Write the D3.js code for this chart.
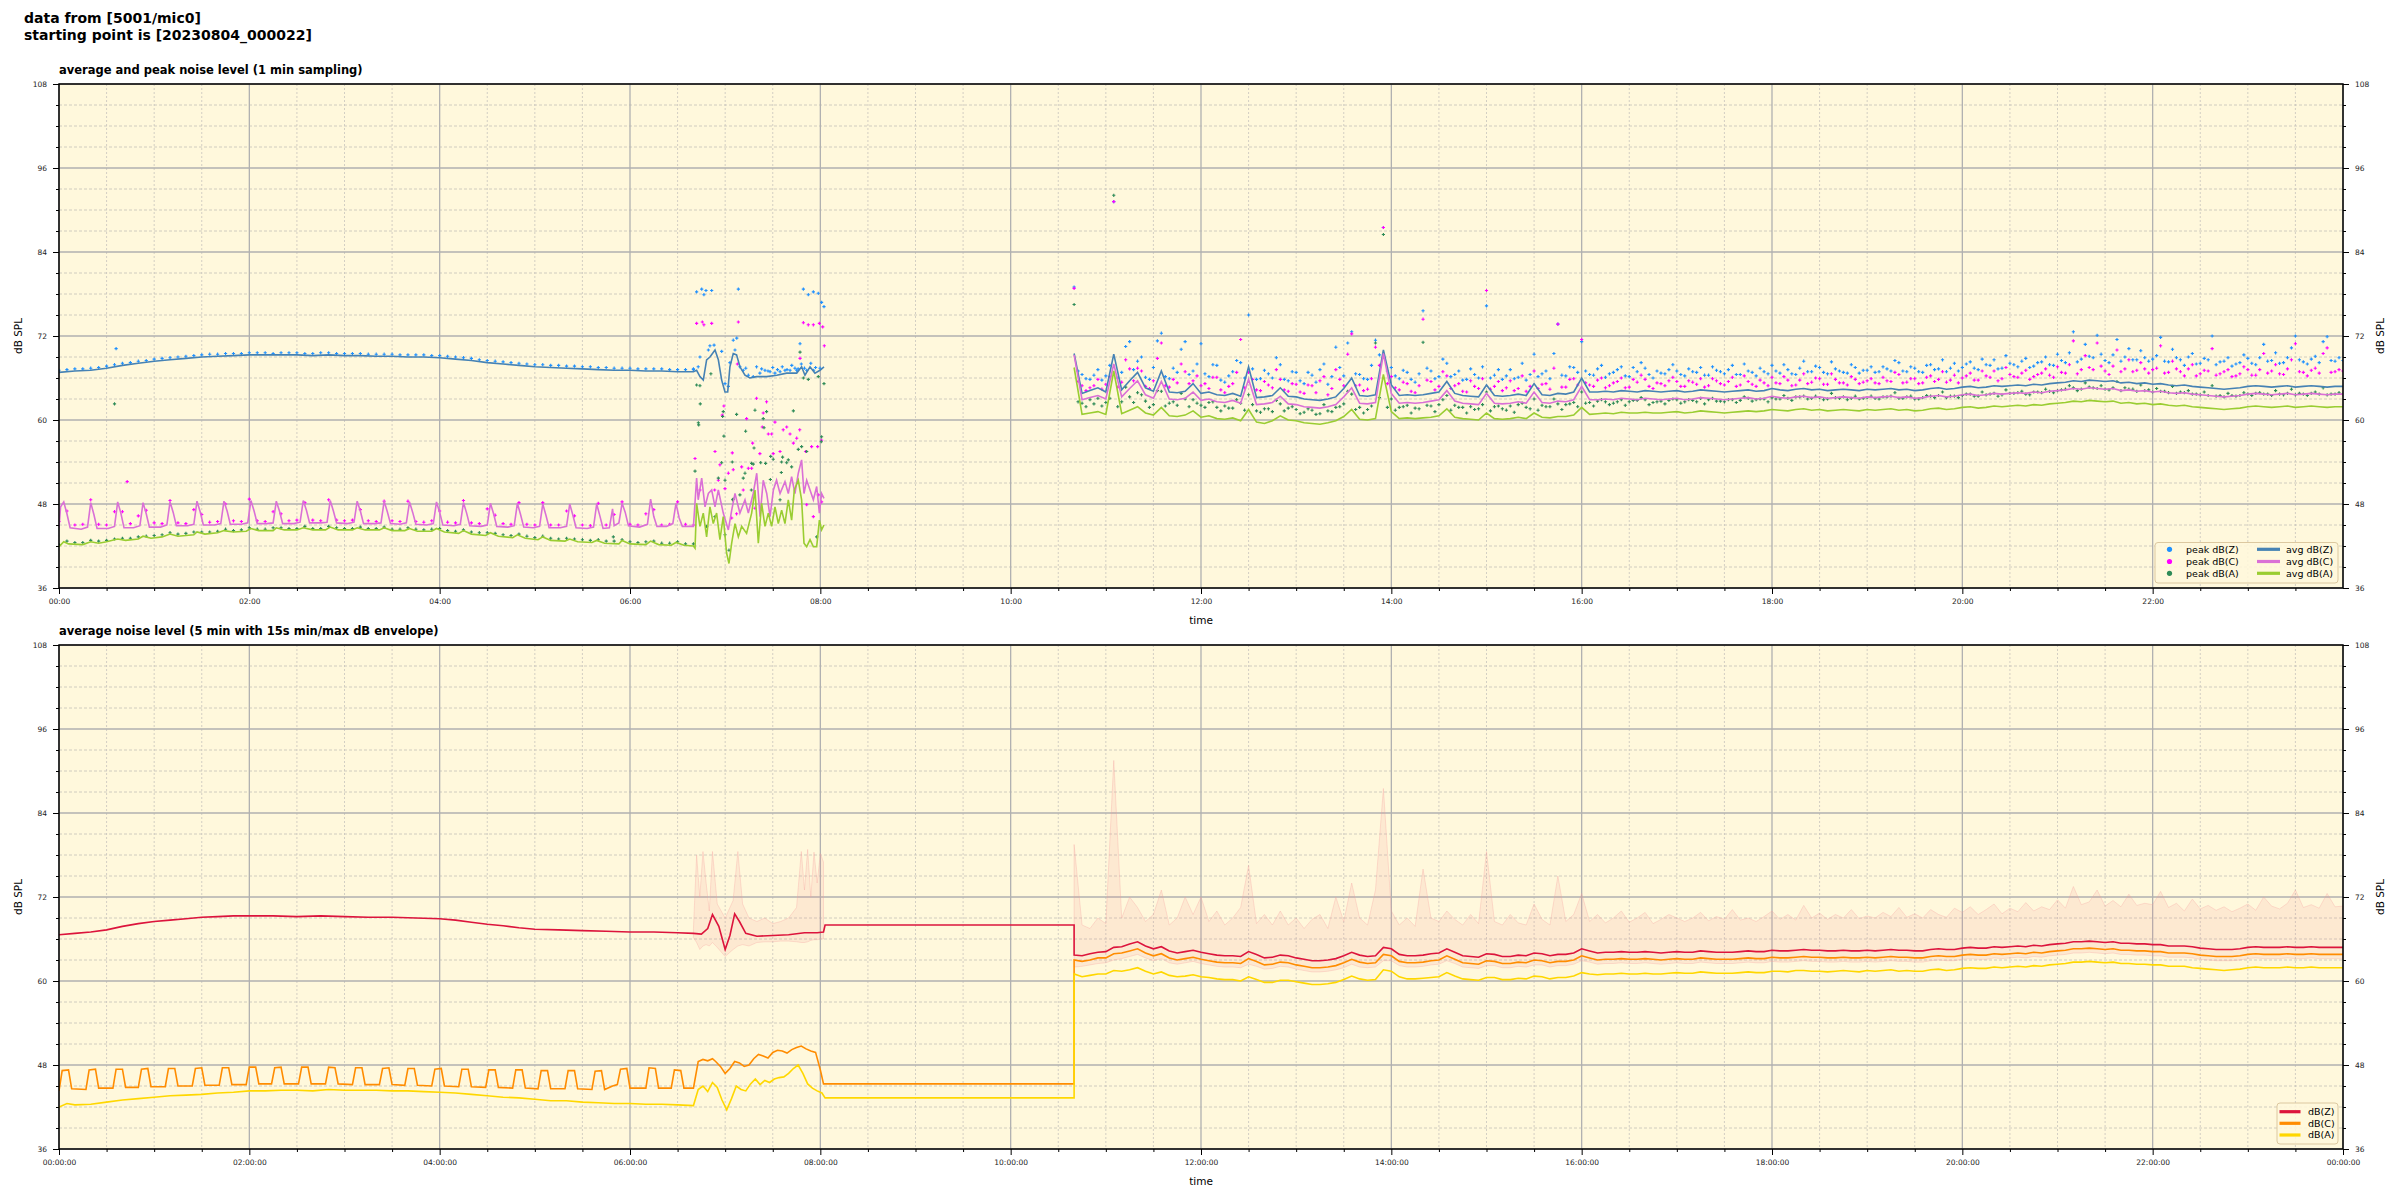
<!DOCTYPE html>
<html><head><meta charset="utf-8">
<script src="https://cdn.jsdelivr.net/npm/d3@7"></script>
<style>
body{margin:0;background:#fff;}
text{font-family:"DejaVu Sans",sans-serif;}
</style></head><body>
<svg id="c" width="2400" height="1200"></svg>
<script>
// ---------- DATA (times in minutes since 00:00, values in dB SPL) ----------
const yMajorTicks = [36,48,60,72,84,96,108];
const xMajorTicks = [0,120,240,360,480,600,720,840,960,1080,1200,1320,1440];
const topLegend = ["peak dB(Z)","peak dB(C)","peak dB(A)","avg dB(Z)","avg dB(C)","avg dB(A)"];
const botLegend = ["dB(Z)","dB(C)","dB(A)"];

// top panel, morning segment: averages as [minute, dB]
const avgZ1 = [[0,66.8],[10,67.0],[20,67.1],[30,67.4],[40,67.8],[50,68.1],[60,68.4],[70,68.6],[80,68.8],[90,69.0],[100,69.1],[110,69.2],[120,69.3],[130,69.3],[140,69.3],[150,69.3],[160,69.2],[170,69.3],[180,69.2],[190,69.2],[200,69.1],[210,69.1],[220,69.0],[230,69.0],[240,68.9],[250,68.7],[260,68.5],[270,68.2],[280,68.0],[290,67.8],[300,67.6],[310,67.5],[320,67.4],[330,67.3],[340,67.2],[350,67.1],[360,67.1],[370,67.0],[380,67.0],[390,66.9],[400,66.9],
[402,67.1],[404.1,66.2],[406.2,65.7],[408.3,68.6],[410.4,69.0],[413.6,70.0],[415.7,68.6],[417.8,65.7],[419.9,64.0],[421.6,64.0],[423,67.6],[425.1,69.5],[427.2,69.3],[429.3,67.6],[432.5,66.4],[435.6,66.0],[439.8,66.2],[446.1,66.2],[452.5,66.4],[458.8,66.7],[465.1,66.7],[468.2,67.6],[470.3,66.4],[473.5,67.6],[476.6,66.7],[479.8,67.1],[482.3,67.6]];
const avgC1 = [[0,44.6],[1,47.6],[3,48.3],[5,46.6],[7,44.6],[14,44.4],[18,44.7],[20,48.2],[22,46.5],[24,44.5],[31,44.5],[35,44.8],[37,48.3],[39,46.7],[41,44.6],[47,44.6],[51,44.9],[53,48.2],[55,46.6],[57,44.7],[64,44.7],[68,45.0],[70,48.3],[72,46.8],[74,44.9],[81,44.9],[85,45.1],[87,48.4],[89,46.9],[91,45.0],[98,45.0],[102,45.2],[104,48.4],[106,47.0],[108,45.1],[115,45.1],[119,45.3],[121,48.5],[123,47.0],[125,45.2],[131,45.2],[135,45.3],[137,48.4],[139,47.0],[141,45.2],[148,45.2],[152,45.4],[154,48.5],[156,47.1],[158,45.3],[165,45.3],[169,45.4],[171,48.5],[173,47.0],[175,45.3],[182,45.2],[186,45.4],[188,48.4],[190,47.0],[192,45.2],[199,45.2],[203,45.3],[205,48.4],[207,46.9],[209,45.2],[215,45.1],[219,45.3],[221,48.3],[223,46.8],[225,45.1],[232,45.0],[236,45.2],[238,48.3],[240,46.8],[242,45.0],[249,44.9],[253,45.1],[255,48.2],[257,46.7],[259,44.9],[266,44.8],[270,45.0],[272,48.1],[274,46.6],[276,44.8],[283,44.7],[287,44.9],[289,48.1],[291,46.5],[293,44.7],[299,44.6],[303,44.8],[305,48.0],[307,46.4],[309,44.6],[316,44.6],[320,44.8],[322,48.0],[324,46.4],[326,44.6],[333,44.5],[337,44.7],[339,48.0],[341,46.3],[343,44.5],[347,44.6],[349,47.3],[350,44.9],[353,45.3],[355,48.1],[357,46.8],[359,44.9],[366,44.7],[371,45.1],[373,48.7],[375,46.2],[377,44.8],[383,44.8],[387,45.2],[389,48.1],[391,46.0],[393,44.8],[400,44.8],
[402,51.7],[403,48.6],[405.2,51.7],[407.3,47.6],[409.4,49.5],[411.5,50.0],[413.6,47.6],[415.7,50.0],[418.8,46.7],[422,44.3],[424.1,47.1],[426.2,49.5],[429.3,46.7],[432.5,48.6],[434.6,46.7],[437.7,49.5],[439.9,52.4],[442,46.2],[444,51.4],[446.2,49.5],[448.3,46.2],[450.4,50.0],[452.4,51.4],[454.6,49.5],[457.7,51.2],[459.8,49.5],[461.9,51.9],[464,49.5],[466.1,52.4],[468.2,54.3],[469.7,49.5],[471.4,51.4],[473.5,50.0],[475.6,48.6],[477.7,50.5],[479.4,46.7],[480.8,49.5],[482.3,48.8]];
const avgA1 = [[0,41.9],[3,42.6],[6,42.3],[15,42.2],[20,42.6],[25,42.4],[30,42.6],[37,43.0],[42,42.8],[50,43.0],[53,43.4],[58,43.1],[65,43.3],[70,43.7],[75,43.4],[85,43.6],[87,44.0],[92,43.7],[100,43.9],[104,44.2],[110,44.0],[118,44.1],[121,44.5],[126,44.2],[135,44.2],[137,44.6],[142,44.3],[150,44.3],[154,44.6],[160,44.3],[168,44.3],[171,44.7],[176,44.3],[185,44.3],[188,44.6],[193,44.3],[202,44.3],[205,44.6],[210,44.2],[218,44.2],[221,44.5],[226,44.1],[235,44.1],[238,44.5],[243,44.0],[252,43.8],[255,44.2],[260,43.7],[269,43.5],[272,43.9],[277,43.4],[286,43.2],[289,43.6],[294,43.1],[302,42.9],[305,43.3],[310,42.8],[319,42.7],[322,43.0],[327,42.6],[336,42.5],[339,42.8],[344,42.4],[353,42.3],[355,42.8],[360,42.3],[370,42.2],[373,42.7],[378,42.2],[386,42.1],[389,42.5],[394,42.1],[400,42.0],
[401,41.7],[402,48.1],[404.1,44.8],[406.2,46.7],[408.3,43.3],[410.4,47.6],[412.5,45.2],[414.6,46.7],[416.7,42.9],[418.8,46.2],[420.9,41.0],[422.4,39.5],[424.1,42.4],[426.2,45.2],[428.3,43.3],[430.4,44.8],[433.5,43.8],[436.7,46.7],[438.8,50.0],[440.9,42.4],[443,48.1],[445.1,44.8],[447.2,46.7],[449.3,44.8],[451.4,47.6],[453.5,45.2],[455.6,47.1],[457.7,45.2],[459.8,48.6],[461.9,45.7],[463.6,50.0],[466.1,51.4],[468.2,48.6],[469.7,42.4],[471.4,41.9],[473.5,42.9],[475.6,41.9],[477.7,41.9],[479.4,45.7],[480.8,44.3],[482.3,45.0]];

// top panel, morning peaks every 5 min from 00:00 to 06:40
const peakZ1 = [67.1,67.2,67.3,67.3,67.4,67.5,67.7,67.9,68.1,68.2,68.4,68.5,
68.7,68.8,68.9,69.0,69.1,69.2,69.3,69.4,69.4,69.5,69.5,69.5,
69.6,69.6,69.6,69.5,69.6,69.6,69.6,69.5,69.5,69.6,69.6,69.5,
69.5,69.5,69.5,69.4,69.4,69.4,69.4,69.3,69.3,69.3,69.3,69.2,
69.2,69.1,69.0,68.9,68.8,68.6,68.5,68.4,68.3,68.2,68.1,68.0,
67.9,67.9,67.8,67.8,67.7,67.7,67.6,67.6,67.5,67.5,67.4,67.4,
67.4,67.3,67.3,67.3,67.3,67.2,67.2,67.2,67.2];
const peakC1 = [45.5,47.0,45.0,45.1,48.6,45.1,45.0,46.9,46.9,45.2,46.3,47.1,
45.3,45.2,48.5,45.3,45.2,47.2,46.5,45.4,45.5,48.0,45.6,45.5,
48.7,45.6,45.5,46.9,46.6,45.6,45.7,48.2,45.7,45.6,48.6,45.7,
45.6,45.7,47.2,45.6,45.5,48.4,45.6,45.5,48.4,45.5,45.4,45.6,
47.0,45.4,45.3,48.5,45.3,45.2,47.3,46.4,45.2,45.1,48.2,45.1,
45.0,48.2,45.0,45.0,47.0,46.3,45.0,44.9,48.1,45.0,46.5,48.3,
45.1,45.0,46.6,47.2,45.0,45.1,48.3,45.1,45.0];
const peakA1 = [42.2,42.7,42.5,42.5,42.8,42.7,42.8,43.0,43.1,43.1,43.3,43.4,
43.5,43.6,43.9,43.7,43.8,44.0,44.0,44.0,44.1,44.4,44.2,44.3,
44.6,44.4,44.4,44.6,44.6,44.5,44.5,44.8,44.5,44.5,44.8,44.6,
44.5,44.5,44.7,44.5,44.5,44.7,44.4,44.4,44.6,44.4,44.3,44.4,
44.5,44.2,44.1,44.3,44.0,43.9,43.9,43.8,43.6,43.5,43.7,43.4,
43.2,43.4,43.1,43.0,43.1,43.0,42.9,42.8,42.9,42.7,42.7,42.9,
42.6,42.5,42.6,42.7,42.4,42.4,42.6,42.3,42.3];
// individual peak readings (scattered) as [minute, dB]
const peakZx = [[36,70.2],[402.0,78.3],[405.2,78.7],[406.6,77.9],[407.9,78.5],[411.5,78.5],[428.3,78.7],[404.1,69.0],[409.4,70.0],[410.4,70.6],[413.0,70.7],[417.8,69.8],[425.1,71.4],[426.2,70.0],[427.3,71.7],[429.3,67.6],[431.4,67.1],[434.6,66.4],[437.7,66.2],[439.8,67.6],[441.9,66.7],[445.1,67.1],[448.3,66.9],[451.4,66.7],[454.6,66.9],[457.7,67.1],[460.9,67.1],[464.0,67.4],[465.1,67.1],[467.2,70.9],[469.3,78.7],[471.4,67.1],[472.4,77.9],[475.6,78.3],[475.8,67.1],[478.7,78.1],[479.8,67.4],[480.8,76.8],[482.3,76.2],[400,67.3],[403,67.6],[419.9,65.2],[422,64.8],[423,68.2],[433,67.4],[443,67.3],[447,67.0],[450,67.5],[453,67.2],[456,67.6],[459,67.2],[462,67.8],[466,67.3],[468,68.0],[470,67.4],[474,68.1],[477,67.5]];
const peakCx = [[43,51.2],[402.0,73.8],[405.6,74.0],[406.6,73.6],[411.5,73.8],[428.3,74.0],[469.3,73.9],[472.4,73.6],[475.6,73.6],[479.4,73.8],[481.5,73.3],[482.5,70.6],[427.7,68.0],[467.2,68.8],[439.8,63.1],[446.1,62.6],[419.2,62.0],[418.2,60.7],[433.5,60.2],[444.0,61.0],[451.4,59.7],[401.0,54.5],[413.6,55.5],[424.5,55.3],[441.9,55.2],[437.3,56.7],[443.4,59.0],[447.2,58.0],[449.3,58.0],[456.6,58.6],[458.8,59.0],[460.9,58.0],[463.0,56.7],[465.1,57.4],[467.0,58.6],[470.7,55.5],[474.5,56.2],[478.3,56.2],[480.8,57.1],[416.7,53.6],[425.1,52.9],[430.4,53.3],[434.6,53.1],[436.7,53.1],[450.3,55.2],[454.6,55.5],[415.7,51.4],[422.0,52.4],[413.4,50.0],[419.9,50.2],[404.1,50.0],[431.4,50.0],[438.8,47.4],[424.1,46.0],[427.2,46.6],[471.4,47.9],[475.6,46.2],[478.7,49.3],[480.8,48.3]];
const peakAx = [[35,62.3],[402.0,65.0],[404.1,64.9],[404.3,62.3],[403.1,59.6],[403.3,59.3],[411.0,66.6],[418.8,61.2],[418.4,60.5],[419.2,57.7],[427.2,60.8],[438.8,61.4],[444.0,60.2],[446.1,61.2],[463.0,61.3],[467.2,69.7],[432.9,58.4],[444.5,58.9],[438.2,56.0],[442.4,53.9],[445.5,53.8],[448.7,54.8],[450.3,54.4],[455.6,54.0],[458.8,53.9],[461.9,53.3],[456.2,54.7],[459.8,54.3],[417.8,53.9],[424.5,54.0],[431.4,51.7],[432.5,52.4],[401.0,52.7],[415.7,51.7],[419.9,51.4],[436.7,53.8],[437.7,53.7],[429.3,49.3],[425.1,48.7],[436.5,50.0],[455.4,52.5],[454.6,48.6],[448.5,51.5],[466.1,55.8],[468.2,56.2],[471.4,55.5],[480.8,57.6],[480.6,56.9],[469.3,66.0],[472.4,65.8],[478.7,66.2],[482.3,65.2],[419.9,43.6],[422.4,41.4],[408.3,44.8],[477.7,43.3],[413.6,46.2],[424.7,48.6],[349.5,43.3]];

// top panel, afternoon segment: every 5 min from 10:40 to 24:00
const avgZ2 = [69.5,63.8,64.2,64.6,
64.0,69.4,64.3,65.6,66.8,64.6,64.1,67.0,64.0,63.9,64.1,65.2,
63.8,64.0,63.6,63.5,63.8,63.4,67.6,63.2,63.3,63.5,64.6,63.4,
63.3,63.0,62.9,62.8,63.0,63.3,64.5,66.0,63.5,63.4,63.6,70.0,
65.0,63.5,63.6,63.5,63.6,63.8,64.0,65.5,63.8,63.5,63.4,63.3,
65.0,63.5,63.4,63.5,63.7,63.5,65.2,63.6,63.5,63.8,63.7,64.0,
66.0,64.0,64.0,64.1,64.0,64.2,64.1,64.0,64.2,64.1,64.0,64.1,
64.2,64.0,64.1,64.3,64.2,64.1,64.0,64.1,64.2,64.3,64.1,64.2,
64.5,64.3,64.2,64.4,64.5,64.3,64.4,64.2,64.3,64.4,64.3,64.2,
64.4,64.3,64.4,64.5,64.3,64.4,64.2,64.3,64.5,64.6,64.4,64.5,
64.7,64.8,64.6,64.7,64.9,64.8,64.9,65.0,64.9,65.1,65.0,65.2,
65.3,65.4,65.6,65.5,65.7,65.6,65.5,65.6,65.3,65.4,65.2,65.3,
65.1,65.2,65.0,64.9,65.0,64.8,64.7,64.6,64.5,64.4,64.5,64.6,
64.8,64.9,64.8,64.7,64.8,64.9,64.7,64.8,64.9,64.8,64.7,64.8,
64.8];
const avgC2 = [69.3,62.9,63.2,63.5,
63.0,68.0,63.3,64.5,65.6,63.6,63.1,65.5,63.0,62.9,63.1,64.0,
62.8,63.0,62.6,62.5,62.8,62.4,65.8,62.2,62.3,62.5,63.4,62.3,
62.2,61.9,61.8,61.7,61.9,62.2,63.3,64.6,62.4,62.3,62.5,69.5,
63.8,62.4,62.5,62.4,62.5,62.7,62.9,64.2,62.7,62.4,62.3,62.2,
63.8,62.4,62.3,62.4,62.6,62.4,64.0,62.5,62.4,62.7,62.6,62.9,
64.8,62.9,62.9,63.0,62.9,63.1,63.0,62.9,63.1,63.0,62.9,63.0,
63.1,62.9,63.0,63.2,63.1,63.0,62.9,63.0,63.1,63.2,63.0,63.1,
63.4,63.2,63.1,63.3,63.4,63.2,63.3,63.1,63.2,63.3,63.2,63.1,
63.3,63.2,63.3,63.4,63.2,63.3,63.1,63.2,63.4,63.5,63.3,63.4,
63.6,63.7,63.5,63.6,63.8,63.7,63.8,63.9,63.8,64.0,63.9,64.1,
64.2,64.3,64.5,64.4,64.6,64.5,64.4,64.5,64.2,64.3,64.1,64.2,
64.0,64.1,63.9,63.8,63.9,63.7,63.6,63.5,63.4,63.3,63.4,63.5,
63.7,63.8,63.7,63.6,63.7,63.8,63.6,63.7,63.8,63.7,63.6,63.7,
63.7];
const avgA2 = [67.5,60.8,61.0,61.2,
60.8,67.0,60.9,61.4,61.9,61.0,60.7,61.8,60.6,60.5,60.7,61.3,
60.4,60.6,60.2,60.1,60.3,59.9,61.5,59.7,59.5,59.9,60.6,60.0,
59.9,59.6,59.5,59.4,59.6,59.9,60.5,61.5,60.1,60.0,60.2,66.5,
61.2,60.2,60.3,60.2,60.3,60.4,60.6,61.6,60.4,60.2,60.1,60.0,
61.0,60.2,60.1,60.2,60.4,60.2,61.0,60.4,60.3,60.5,60.5,60.7,
61.8,60.8,60.9,61.0,60.9,61.1,61.0,61.0,61.1,61.0,61.0,61.1,
61.2,61.0,61.1,61.3,61.2,61.1,61.0,61.1,61.2,61.3,61.2,61.3,
61.5,61.4,61.3,61.5,61.6,61.4,61.5,61.3,61.4,61.5,61.4,61.3,
61.5,61.4,61.5,61.6,61.4,61.5,61.3,61.4,61.6,61.7,61.5,61.6,
61.8,61.9,61.7,61.8,62.0,61.9,62.0,62.1,62.0,62.2,62.1,62.3,
62.4,62.5,62.7,62.6,62.8,62.7,62.6,62.7,62.4,62.5,62.3,62.4,
62.2,62.3,62.1,62.0,62.1,61.9,61.8,61.7,61.6,61.5,61.6,61.7,
61.9,62.0,61.9,61.8,61.9,62.0,61.8,61.9,62.0,61.9,61.8,61.9,
61.9];
// peaks at 10:40, 10:45 ... 24:00
const peakZ2 = [79.0,66.5,65.8,67.2,
66.3,91.2,66.8,71.2,68.4,66.1,67.5,72.4,65.9,66.8,71.2,67.0,
70.9,66.2,67.8,65.4,66.9,68.2,75.0,65.8,67.1,66.0,67.9,65.6,
66.8,65.2,66.4,67.2,65.1,70.4,66.3,72.6,66.5,65.8,71.4,87.5,
67.5,65.9,66.8,65.4,75.6,67.0,66.2,68.1,66.5,65.7,67.3,66.0,
76.3,66.4,65.8,67.2,66.1,65.7,69.4,66.6,65.9,73.7,66.3,67.5,
71.2,66.5,67.3,66.1,66.8,67.6,66.2,66.9,67.4,66.0,66.7,67.2,
67.0,66.3,66.9,67.5,66.4,67.1,66.6,67.8,66.5,67.0,66.3,66.9,
67.8,66.7,67.2,66.5,68.4,66.9,67.5,66.6,67.3,66.8,67.9,66.7,
67.1,66.8,67.6,67.0,68.2,66.9,67.4,66.8,67.9,67.3,66.9,68.1,
67.5,68.3,67.2,67.9,68.6,67.4,68.1,67.6,68.8,67.7,68.3,67.9,
69.4,68.2,72.6,68.7,69.1,72.1,68.5,69.3,68.4,70.2,68.6,68.9,
68.7,71.8,68.3,68.9,67.8,69.5,68.1,68.6,67.9,68.4,67.7,68.2,
68.8,67.9,70.8,68.5,68.1,68.9,72.0,68.3,68.7,68.2,71.9,68.4,
68.5];
const peakC2 = [78.8,64.9,64.6,65.8,
65.1,91.2,65.4,67.3,67.4,64.8,65.6,71.0,64.7,65.3,66.9,65.6,
64.9,64.5,66.1,63.9,65.2,71.5,66.8,64.3,65.5,64.6,65.8,64.1,
65.1,63.8,64.9,65.6,63.6,67.2,64.9,72.3,65.0,64.4,70.4,87.5,
66.2,64.3,65.2,63.9,74.4,65.5,64.8,66.3,64.9,64.1,65.6,64.5,
78.5,64.8,64.2,65.6,64.5,64.1,67.0,65.1,64.4,73.7,64.7,65.9,
71.5,65.0,65.7,64.6,65.3,66.0,64.7,65.4,65.8,64.5,65.2,65.6,
65.5,64.8,65.4,65.9,64.9,65.6,65.0,66.1,65.0,65.5,64.8,65.3,
66.1,65.2,65.7,65.0,66.6,65.4,65.9,65.1,65.8,65.3,66.2,65.2,
65.6,65.3,66.1,65.5,66.5,65.4,65.9,65.3,66.3,65.8,65.4,66.4,
66.0,66.7,65.7,66.3,67.0,65.9,66.5,66.1,67.1,66.2,66.7,66.4,
67.6,66.7,71.3,67.2,67.5,71.0,67.0,67.7,66.9,68.6,67.1,67.3,
67.2,70.6,66.8,67.3,66.3,67.9,66.6,67.0,66.4,66.9,66.2,66.6,
67.2,66.4,69.5,67.0,66.6,67.3,70.9,66.8,67.1,66.7,70.3,66.9,
67.0];
const peakA2 = [76.5,62.4,62.9,63.1,
62.5,92.1,62.6,63.3,63.9,62.7,62.2,64.1,62.4,62.1,63.0,62.9,
62.1,62.5,61.8,62.0,61.7,62.4,63.6,61.3,61.6,61.2,62.3,61.7,
61.5,61.1,61.4,60.9,61.3,61.8,62.3,63.7,61.8,61.5,71.0,86.5,
63.0,61.8,62.1,61.7,71.1,62.0,62.2,63.5,62.1,61.8,61.9,61.6,
64.0,61.9,61.6,62.0,62.2,61.8,63.0,62.1,61.9,62.3,62.2,62.5,
64.0,62.5,62.7,62.6,62.4,62.9,62.6,62.8,62.9,62.5,62.7,62.8,
62.9,62.6,62.8,63.1,62.9,62.7,62.6,62.9,62.8,63.1,62.9,63.0,
63.2,63.0,63.1,63.3,63.4,63.1,63.2,63.0,63.2,63.3,63.1,63.0,
63.2,63.1,63.3,63.4,63.1,63.3,63.0,63.2,63.4,63.5,63.2,63.4,
63.5,63.7,63.4,63.6,63.8,63.6,63.8,63.9,63.7,64.0,63.9,64.1,
64.2,64.4,64.6,64.4,64.7,64.5,64.4,64.6,64.2,64.4,64.1,64.2,
64.0,64.1,63.9,63.8,63.9,63.7,63.6,63.5,63.4,63.3,63.5,63.5,
63.7,63.8,63.7,63.5,63.7,63.8,63.6,63.7,63.8,63.7,63.6,63.7,
63.7];
// peaks in between: 10:42:30, 10:47:30 ... 23:57:30
const peakZ2b = [67.0,65.9,66.4,65.7,
67.8,66.0,70.5,67.2,69.0,65.8,71.3,66.2,67.4,70.1,66.5,68.0,
66.6,67.9,65.7,66.3,68.5,66.0,67.3,65.9,66.6,68.9,65.8,66.9,
65.6,66.8,65.4,68.0,66.2,67.5,71.0,66.6,65.9,67.8,69.3,67.0,
66.3,67.1,65.8,66.6,67.4,65.9,68.7,66.2,67.0,65.8,66.5,67.6,
66.0,67.2,66.3,65.9,68.1,66.5,66.2,67.0,69.5,66.4,67.6,66.8,
67.0,66.4,67.8,66.6,67.2,66.3,67.5,68.2,66.5,67.0,66.6,67.9,
66.5,67.3,66.8,66.4,67.6,66.9,67.2,66.5,68.0,66.8,67.4,66.6,
67.0,67.9,66.6,67.4,66.9,67.7,66.8,68.3,67.0,66.7,67.5,67.1,
67.6,66.9,67.3,68.5,67.0,67.6,66.9,67.8,67.2,68.6,67.4,67.0,
68.0,67.4,68.7,67.8,67.3,69.2,67.9,68.4,67.5,68.2,69.0,67.8,
68.5,69.6,68.3,70.8,68.9,69.4,68.2,71.5,69.0,68.6,69.9,68.4,
69.2,68.4,70.1,68.6,69.0,68.0,68.8,72.0,68.3,68.9,68.0,69.3,
68.1,68.9,68.4,69.6,68.2,70.3,68.6,68.0,69.1,71.2,68.5,68.9];
const peakC2b = [65.5,64.2,64.9,64.4,
66.2,64.7,68.6,65.6,67.0,64.5,68.8,64.9,65.8,68.0,65.2,66.3,
65.2,66.1,64.3,64.8,66.8,64.6,65.8,64.2,65.0,67.2,64.3,65.2,
64.0,65.0,63.9,66.2,64.5,65.8,69.4,64.9,64.2,65.9,67.8,65.2,
64.6,65.4,64.1,64.9,65.7,64.3,66.9,64.5,65.2,64.0,64.8,65.9,
64.4,65.5,64.6,64.2,66.3,64.8,64.5,65.2,67.4,64.7,65.8,65.0,
65.3,64.8,66.0,64.9,65.5,64.6,65.8,66.4,64.8,65.3,64.9,66.1,
64.8,65.6,65.1,64.7,65.9,65.2,65.5,64.8,66.3,65.1,65.7,64.9,
65.3,66.2,64.9,65.7,65.2,66.0,65.1,66.6,65.3,65.0,65.8,65.4,
65.9,65.2,65.6,66.8,65.3,65.9,65.2,66.1,65.5,66.9,65.7,65.3,
66.3,65.7,67.0,66.1,65.6,67.5,66.2,66.7,65.8,66.5,67.3,66.1,
66.8,67.9,66.6,69.2,67.2,67.7,66.5,70.0,67.3,66.9,68.2,66.7,
67.4,66.7,68.4,66.9,67.3,66.3,67.1,70.2,66.6,67.2,66.3,67.6,
66.4,67.2,66.7,67.9,66.5,68.6,66.9,66.3,67.4,69.5,66.8,67.2];
const peakA2b = [62.6,61.9,62.3,62.0,
63.1,61.9,64.7,62.5,63.6,61.8,64.2,62.0,62.6,63.8,61.9,62.4,
61.8,62.6,61.3,61.7,62.9,61.4,62.2,61.1,61.6,62.8,61.3,61.9,
60.9,61.6,60.8,62.2,61.2,61.9,64.1,61.5,61.0,62.0,63.2,61.8,
61.4,61.9,61.0,61.6,62.1,61.2,62.9,61.4,61.8,61.0,61.5,62.2,
61.3,62.0,61.4,61.1,62.4,61.6,61.4,61.9,63.0,61.5,62.3,61.9,
62.4,62.0,62.9,62.2,62.6,62.1,62.8,63.2,62.2,62.6,62.3,63.0,
62.4,62.9,62.6,62.3,63.1,62.7,62.9,62.5,63.3,62.7,63.0,62.6,
63.0,63.5,62.8,63.3,63.0,63.4,62.9,63.8,63.1,62.9,63.4,63.1,
63.4,63.0,63.3,63.9,63.1,63.4,63.0,63.5,63.2,64.0,63.4,63.2,
63.7,63.4,64.0,63.7,63.4,64.3,63.8,64.1,63.6,64.0,64.4,63.9,
64.3,64.9,64.2,65.3,64.6,64.9,64.3,65.5,64.6,64.4,65.0,64.3,
64.5,64.1,64.8,64.0,64.2,63.7,64.0,64.9,63.5,63.8,63.4,63.9,
63.5,63.9,63.7,64.2,63.6,64.4,63.8,63.5,64.0,64.6,63.7,63.9];

// bottom panel: 5-min averages. Morning part as [minute, dB] (incl. the flat stretch up to 10:40)
const botZ1 = [[0,66.6],[10,66.8],[20,67.0],[30,67.3],[40,67.8],[50,68.2],[60,68.5],[70,68.7],[80,68.9],[90,69.1],[100,69.2],[110,69.3],[120,69.3],[135,69.3],[150,69.2],[165,69.3],[180,69.2],[195,69.1],[210,69.1],[225,69.0],[240,68.9],[250,68.7],[260,68.4],[270,68.1],[280,67.9],[290,67.6],[300,67.4],[315,67.3],[330,67.2],[345,67.1],[360,67.0],[375,67.0],[390,66.9],[400,66.8],[405,66.7],[409,67.5],[412,69.5],[416,67.8],[420,64.5],[423,66.5],[426,69.6],[429,68.5],[433,66.8],[440,66.4],[450,66.5],[460,66.6],[470,66.9],[478,66.9],[482,67.0],[483,68.0],[640,68.0]];
const botC1 = [[0,44.3],[2,47.2],[6,47.3],[8,44.6],[17,44.5],[19,47.3],[23,47.4],[25,44.7],[34,44.7],[36,47.4],[40,47.4],[42,44.8],[50,44.8],[52,47.4],[56,47.5],[58,44.9],[67,44.9],[69,47.5],[73,47.5],[75,45.0],[84,45.0],[86,47.5],[90,47.6],[92,45.1],[101,45.1],[103,47.6],[107,47.6],[109,45.2],[118,45.2],[120,47.7],[124,47.7],[126,45.3],[134,45.3],[136,47.6],[140,47.7],[142,45.3],[151,45.3],[153,47.7],[157,47.7],[159,45.3],[168,45.3],[170,47.7],[174,47.6],[176,45.3],[185,45.2],[187,47.6],[191,47.6],[193,45.2],[202,45.2],[204,47.5],[208,47.6],[210,45.2],[218,45.1],[220,47.5],[224,47.5],[226,45.1],[235,45.0],[237,47.4],[241,47.5],[243,45.0],[252,44.9],[254,47.4],[258,47.4],[260,44.9],[269,44.8],[271,47.3],[275,47.3],[277,44.8],[286,44.7],[288,47.3],[292,47.3],[294,44.7],[302,44.6],[304,47.2],[308,47.2],[310,44.6],[319,44.6],[321,47.2],[325,47.2],[327,44.6],[336,44.5],[338,47.1],[342,47.2],[344,44.5],[349,45.0],[352,45.2],[354,47.4],[358,47.5],[360,44.7],[370,44.7],[372,47.6],[376,47.5],[378,44.7],[386,44.7],[388,47.3],[392,47.2],[394,44.7],[400,44.7],
[403,48.5],[406,48.8],[409,48.6],[412,48.9],[414,48.5],[417,47.8],[420,46.8],[423,47.5],[426,48.5],[429,48.3],[432,47.8],[435,48.0],[438,48.9],[441,49.5],[444,49.3],[447,49.0],[450,49.8],[453,50.1],[456,50.0],[459,49.7],[462,50.2],[465,50.5],[468,50.7],[471,50.3],[474,50.0],[477,49.8],[480,47.3],[482,45.3],[640,45.3]];
const botA1 = [[0,42.0],[5,42.5],[10,42.3],[20,42.4],[30,42.7],[40,43.0],[50,43.2],[60,43.4],[70,43.6],[80,43.7],[90,43.8],[100,44.0],[110,44.1],[120,44.3],[130,44.3],[140,44.4],[150,44.4],[160,44.3],[170,44.5],[180,44.4],[190,44.4],[200,44.4],[210,44.3],[220,44.3],[230,44.2],[240,44.1],[250,44.0],[260,43.8],[270,43.6],[280,43.4],[290,43.3],[300,43.1],[310,42.9],[320,42.9],[330,42.7],[340,42.6],[350,42.5],[360,42.5],[370,42.4],[380,42.4],[390,42.3],[400,42.2],
[403,44.5],[406,45.0],[409,44.2],[412,45.5],[415,44.8],[418,43.0],[421,41.6],[424,43.2],[427,45.0],[430,44.5],[433,44.3],[436,45.3],[439,46.0],[442,45.2],[445,45.8],[448,45.5],[451,46.0],[454,46.2],[457,46.3],[460,46.8],[463,47.5],[466,48.0],[469,46.8],[472,45.3],[475,44.7],[478,44.3],[481,44.0],[483,43.3],[640,43.3]];
// bottom panel afternoon: every 5 min from 10:40 to 24:00
const botZ2 = [63.7,63.6,63.9,64.1,
64.2,64.8,64.9,65.3,65.6,65.0,64.6,64.9,64.3,64.0,64.2,64.4,
64.1,63.9,63.7,63.6,63.6,63.5,64.2,63.8,63.3,63.4,63.7,63.6,
63.3,63.1,62.9,62.9,63.0,63.2,63.6,64.1,63.7,63.5,63.6,64.8,
64.6,63.8,63.6,63.6,63.7,63.9,64.0,64.6,64.1,63.6,63.5,63.4,
63.9,63.8,63.5,63.5,63.7,63.6,64.0,63.9,63.6,63.8,63.8,64.0,
64.6,64.3,64.0,64.1,64.1,64.2,64.1,64.1,64.2,64.1,64.0,64.1,
64.2,64.1,64.1,64.3,64.2,64.1,64.1,64.1,64.2,64.3,64.2,64.2,
64.4,64.3,64.3,64.4,64.5,64.4,64.4,64.3,64.3,64.4,64.3,64.3,
64.4,64.3,64.4,64.5,64.4,64.4,64.3,64.3,64.5,64.6,64.5,64.5,
64.7,64.8,64.7,64.7,64.9,64.8,64.9,65.0,64.9,65.1,65.0,65.2,
65.3,65.4,65.6,65.6,65.7,65.6,65.5,65.6,65.4,65.4,65.3,65.3,
65.2,65.2,65.0,65.0,65.0,64.9,64.7,64.6,64.5,64.5,64.5,64.6,
64.8,64.9,64.8,64.8,64.8,64.9,64.8,64.8,64.9,64.8,64.8,64.8,
64.8];
const botC2 = [63.0,62.8,63.0,63.3,
63.3,63.9,64.0,64.3,64.6,64.0,63.6,63.9,63.3,63.0,63.2,63.4,
63.1,62.9,62.7,62.6,62.6,62.5,63.2,62.8,62.3,62.4,62.7,62.6,
62.3,62.1,61.9,61.9,62.0,62.2,62.6,63.1,62.7,62.5,62.6,63.8,
63.6,62.8,62.6,62.6,62.7,62.9,63.0,63.6,63.1,62.6,62.5,62.4,
62.9,62.8,62.5,62.5,62.7,62.6,63.0,62.9,62.6,62.8,62.8,63.0,
63.6,63.3,63.0,63.1,63.1,63.2,63.1,63.1,63.2,63.1,63.0,63.1,
63.2,63.1,63.1,63.3,63.2,63.1,63.1,63.1,63.2,63.3,63.2,63.2,
63.4,63.3,63.3,63.4,63.5,63.4,63.4,63.3,63.3,63.4,63.3,63.3,
63.4,63.3,63.4,63.5,63.4,63.4,63.3,63.3,63.5,63.6,63.5,63.5,
63.7,63.8,63.7,63.7,63.9,63.8,63.9,64.0,63.9,64.1,64.0,64.2,
64.3,64.4,64.6,64.6,64.7,64.6,64.5,64.6,64.4,64.4,64.3,64.3,
64.2,64.2,64.0,64.0,64.0,63.9,63.7,63.6,63.5,63.5,63.5,63.6,
63.8,63.9,63.8,63.8,63.8,63.9,63.8,63.8,63.9,63.8,63.8,63.8,
63.8];
const botA2 = [61.0,60.6,60.8,61.0,
61.0,61.5,61.4,61.6,61.9,61.4,61.0,61.3,60.8,60.6,60.7,60.9,
60.6,60.5,60.3,60.2,60.2,60.0,60.6,60.2,59.8,59.8,60.1,60.1,
59.9,59.7,59.5,59.5,59.6,59.8,60.2,60.7,60.3,60.1,60.2,61.6,
61.4,60.6,60.3,60.3,60.4,60.5,60.6,61.2,60.7,60.3,60.2,60.1,
60.5,60.5,60.2,60.2,60.4,60.3,60.7,60.6,60.3,60.5,60.5,60.7,
61.2,61.0,60.9,61.0,61.0,61.1,61.0,61.0,61.1,61.0,61.0,61.1,
61.2,61.1,61.1,61.3,61.2,61.1,61.1,61.1,61.2,61.3,61.2,61.2,
61.4,61.4,61.3,61.5,61.5,61.4,61.4,61.3,61.4,61.5,61.4,61.3,
61.5,61.4,61.5,61.6,61.4,61.5,61.4,61.4,61.6,61.7,61.5,61.6,
61.8,61.9,61.8,61.8,62.0,61.9,62.0,62.1,62.0,62.2,62.1,62.3,
62.4,62.5,62.7,62.7,62.8,62.7,62.6,62.7,62.5,62.5,62.4,62.4,
62.3,62.3,62.1,62.1,62.1,61.9,61.8,61.7,61.6,61.5,61.6,61.7,
61.9,62.0,61.9,61.9,61.9,62.0,61.9,61.9,62.0,61.9,61.9,61.9,
61.9];
// dB(Z) 15 s min/max envelope
const envMaxZ1 = [[400,67.5],[402,78.0],[404,72.0],[406,78.5],[408,74.0],[410,70.0],[412,78.5],[415,71.0],[420,69.0],[425,71.5],[428,78.5],[431,71.0],[435,69.0],[440,68.5],[445,69.0],[450,68.2],[455,68.5],[460,69.0],[465,70.5],[468,78.5],[470,73.0],[472,78.8],[474,72.0],[476,78.4],[478,74.0],[480,78.2],[482,77.0]];
const envMinZ1 = [[400,66.2],[402,65.5],[404,64.5],[406,65.0],[408,65.2],[410,65.0],[412,65.5],[415,64.8],[420,63.5],[425,64.5],[428,65.0],[431,65.2],[435,65.0],[440,65.5],[445,65.6],[450,65.6],[455,65.7],[460,65.7],[465,65.6],[468,65.5],[470,65.5],[472,65.6],[474,65.8],[476,65.9],[478,65.9],[480,66.0],[482,66.0]];
const envMaxZ2 = [79.5,68.0,67.5,69.0,
68.2,91.5,69.0,72.0,70.5,68.5,69.5,73.0,68.0,69.0,72.0,69.5,
72.0,68.5,70.0,68.0,69.0,70.5,76.5,68.2,69.5,68.0,70.0,68.0,
69.0,67.5,68.8,69.5,67.5,72.0,68.5,74.0,69.0,68.0,73.0,87.5,
70.0,68.0,69.0,67.8,76.0,69.0,68.5,70.0,68.8,68.0,69.5,68.2,
78.5,68.5,68.0,69.5,68.3,68.0,71.0,68.8,68.0,75.0,68.5,69.5,
72.5,68.5,69.5,68.3,69.0,70.0,68.4,69.0,69.8,68.2,68.8,69.5,
69.0,68.5,69.0,69.8,68.6,69.2,68.8,70.2,68.7,69.0,68.5,69.2,
70.0,68.8,69.5,68.7,70.8,69.0,69.7,68.8,69.5,69.0,70.2,68.9,
69.3,69.0,69.8,69.2,70.5,69.1,69.6,69.0,70.2,69.5,69.1,70.4,
69.8,70.6,69.5,70.2,71.0,69.6,70.4,69.9,71.2,70.0,70.6,70.2,
71.6,70.4,73.5,70.9,71.3,73.0,70.7,71.5,70.6,72.4,70.8,71.1,
70.9,72.8,70.5,71.1,70.0,71.7,70.3,70.8,70.1,70.6,69.9,70.4,
71.0,70.1,72.0,70.7,70.3,71.1,73.0,70.5,70.9,70.4,72.5,70.6,
70.7];
const envMinZ2 = [62.0,62.1,62.3,62.5,
62.6,63.0,63.2,63.5,63.8,63.3,62.9,63.2,62.6,62.4,62.6,62.8,
62.5,62.3,62.1,62.0,62.0,61.9,62.4,62.1,61.7,61.8,62.1,62.0,
61.7,61.5,61.3,61.3,61.4,61.6,61.9,62.4,62.0,61.9,62.0,62.9,
62.9,62.2,62.0,62.0,62.1,62.3,62.4,62.9,62.5,62.0,61.9,61.8,
62.2,62.2,61.9,61.9,62.1,62.0,62.3,62.3,62.0,62.2,62.2,62.4,
62.9,62.7,62.4,62.5,62.5,62.6,62.5,62.5,62.6,62.5,62.4,62.5,
62.6,62.5,62.5,62.7,62.6,62.5,62.5,62.5,62.6,62.7,62.6,62.6,
62.8,62.7,62.7,62.8,62.9,62.8,62.8,62.7,62.7,62.8,62.7,62.7,
62.8,62.7,62.8,62.9,62.8,62.8,62.7,62.7,62.9,63.0,62.9,62.9,
63.1,63.2,63.1,63.1,63.3,63.2,63.3,63.4,63.3,63.5,63.4,63.6,
63.7,63.8,64.0,64.0,64.1,64.0,63.9,64.0,63.8,63.8,63.7,63.7,
63.6,63.6,63.4,63.4,63.4,63.3,63.1,63.0,62.9,62.9,62.9,63.0,
63.2,63.3,63.2,63.2,63.2,63.3,63.2,63.2,63.3,63.2,63.2,63.2,
63.2];

// ---------- helpers ----------
const grid = (start, step, arr) => arr.map((v,i)=>[start+step*i, v]);
const pad2 = n => String(n).padStart(2,'0');
const fmtHM = m => pad2(Math.floor(m/60)%24)+':'+pad2(m%60);
const fmtHMS = m => fmtHM(m)+':00';

const C = {pZ:'#1e90ff', pC:'#ff00ff', pA:'#2e8b57', aZ:'#4682b4', aC:'#da70d6', aA:'#9acd32',
           bZ:'#dc143c', bC:'#ff8c00', bA:'#ffd700'};

const svg = d3.select('#c');
svg.append('rect').attr('width',2400).attr('height',1200).attr('fill','#fff');

const X0 = 59, X1 = 2343;
const x = d3.scaleLinear().domain([0,1440]).range([X0,X1]);

svg.append('text').attr('x',24).attr('y',23).attr('font-size',14).attr('font-weight','bold').text('data from [5001/mic0]');
svg.append('text').attr('x',24).attr('y',39.5).attr('font-size',14).attr('font-weight','bold').text('starting point is [20230804_000022]');

function panel(top, bottom, title, labelTicks, fmt, id){
  const y = d3.scaleLinear().domain([36,108]).range([bottom, top]);
  const g = svg.append('g');
  g.append('rect').attr('x',X0).attr('y',top).attr('width',X1-X0).attr('height',bottom-top).attr('fill','#fff8dc');
  const yMinor = d3.range(36,109,3).filter(v=>v%12!==0);
  const xMinor = d3.range(0,1441,30).filter(v=>v%120!==0);
  g.selectAll(null).data(yMinor).join('line')
    .attr('x1',X0).attr('x2',X1).attr('y1',d=>y(d)).attr('y2',d=>y(d))
    .attr('stroke','#c4c0b8').attr('stroke-width',0.8).attr('stroke-dasharray','3,2');
  g.selectAll(null).data(xMinor).join('line')
    .attr('y1',top).attr('y2',bottom).attr('x1',d=>x(d)).attr('x2',d=>x(d))
    .attr('stroke','#c8c4bc').attr('stroke-width',0.8).attr('stroke-dasharray','2,2');
  g.selectAll(null).data(yMajorTicks).join('line')
    .attr('x1',X0).attr('x2',X1).attr('y1',d=>y(d)).attr('y2',d=>y(d))
    .attr('stroke','#b0b0b0').attr('stroke-width',1.3);
  g.selectAll(null).data(xMajorTicks).join('line')
    .attr('y1',top).attr('y2',bottom).attr('x1',d=>x(d)).attr('x2',d=>x(d))
    .attr('stroke','#b0b0b0').attr('stroke-width',1.3);
  svg.append('clipPath').attr('id',id).append('rect').attr('x',X0).attr('y',top).attr('width',X1-X0).attr('height',bottom-top);
  const data = svg.append('g').attr('clip-path',`url(#${id})`);
  const styleAx = a => { a.select('.domain').remove(); a.selectAll('text').attr('font-family','DejaVu Sans').attr('font-size',7.5).attr('fill','#222'); a.selectAll('line').attr('stroke','#000'); };
  svg.append('g').attr('transform',`translate(${X0},0)`).call(d3.axisLeft(y).tickValues(yMajorTicks).tickSize(6).tickPadding(6).tickFormat(d3.format('d'))).call(styleAx);
  svg.append('g').attr('transform',`translate(${X0},0)`).call(d3.axisLeft(y).tickValues(yMinor).tickSize(3).tickFormat('')).call(styleAx);
  svg.append('g').attr('transform',`translate(${X1},0)`).call(d3.axisRight(y).tickValues(yMajorTicks).tickSize(6).tickPadding(6).tickFormat(d3.format('d'))).call(styleAx);
  svg.append('g').attr('transform',`translate(${X1},0)`).call(d3.axisRight(y).tickValues(yMinor).tickSize(3).tickFormat('')).call(styleAx);
  svg.append('g').attr('transform',`translate(0,${bottom})`).call(d3.axisBottom(x).tickValues(labelTicks).tickSize(6).tickPadding(5).tickFormat(fmt)).call(styleAx);
  svg.append('g').attr('transform',`translate(0,${bottom})`).call(d3.axisBottom(x).tickValues(xMinor.filter(v=>v<1440)).tickSize(3).tickFormat('')).call(styleAx);
  const frame = () => svg.append('rect').attr('x',X0).attr('y',top).attr('width',X1-X0).attr('height',bottom-top).attr('fill','none').attr('stroke','#000').attr('stroke-width',1.5);
  svg.append('text').attr('x',X0).attr('y',top-10).attr('font-size',11.5).attr('font-weight','bold').text(title);
  svg.append('text').attr('x',(X0+X1)/2).attr('y',bottom+35.5).attr('text-anchor','middle').attr('font-size',10.5).text('time');
  svg.append('text').attr('transform',`translate(22,${(top+bottom)/2}) rotate(-90)`).attr('text-anchor','middle').attr('font-size',10.5).text('dB SPL');
  svg.append('text').attr('transform',`translate(2384,${(top+bottom)/2}) rotate(-90)`).attr('text-anchor','middle').attr('font-size',10.5).text('dB SPL');
  return {y, data, frame};
}

// ---------- TOP PANEL ----------
const P1 = panel(84, 588, 'average and peak noise level (1 min sampling)', xMajorTicks.filter(v=>v<1440), fmtHM, 'clipTop');
const line1 = d3.line().x(d=>x(d[0])).y(d=>P1.y(d[1]));
const cross = 'M-1.6,0H1.6M0,-1.6V1.6';
function dots(arr, col){
  P1.data.append('g').selectAll('path').data(arr).join('path')
    .attr('d',cross).attr('transform',d=>`translate(${x(d[0])},${P1.y(d[1])})`)
    .attr('stroke',col).attr('stroke-width',1.1).attr('fill','none');
}
dots(grid(0,5,peakZ1).concat(grid(640,5,peakZ2), grid(642.5,5,peakZ2b), peakZx), C.pZ);
dots(grid(0,5,peakC1).concat(grid(640,5,peakC2), grid(642.5,5,peakC2b), peakCx), C.pC);
dots(grid(0,5,peakA1).concat(grid(640,5,peakA2), grid(642.5,5,peakA2b), peakAx), C.pA);
[[avgZ1,avgZ2,C.aZ],[avgC1,avgC2,C.aC],[avgA1,avgA2,C.aA]].forEach(([s1,s2,col])=>{
  P1.data.append('path').datum(s1).attr('d',line1).attr('fill','none').attr('stroke',col).attr('stroke-width',1.6);
  P1.data.append('path').datum(grid(640,5,s2)).attr('d',line1).attr('fill','none').attr('stroke',col).attr('stroke-width',1.6);
});
P1.frame();
{
  const g = svg.append('g');
  g.append('rect').attr('x',2155).attr('y',542.5).attr('width',183).attr('height',40.5).attr('rx',3)
    .attr('fill','#fff8dc').attr('fill-opacity',0.85).attr('stroke','#dcc8a0').attr('stroke-width',1);
  const rows = [549.3,561.5,573.3];
  [C.pZ,C.pC,C.pA].forEach((c,i)=>{
    g.append('circle').attr('cx',2169.5).attr('cy',rows[i]).attr('r',2.6).attr('fill',c);
    g.append('text').attr('x',2186).attr('y',rows[i]+3.4).attr('font-size',9.5).text(topLegend[i]);
  });
  [C.aZ,C.aC,C.aA].forEach((c,i)=>{
    g.append('line').attr('x1',2257).attr('x2',2280).attr('y1',rows[i]).attr('y2',rows[i]).attr('stroke',c).attr('stroke-width',3.2);
    g.append('text').attr('x',2286).attr('y',rows[i]+3.4).attr('font-size',9.5).text(topLegend[i+3]);
  });
}

// ---------- BOTTOM PANEL ----------
const P2 = panel(645, 1149, 'average noise level (5 min with 15s min/max dB envelope)', xMajorTicks, fmtHMS, 'clipBot');
const line2 = d3.line().x(d=>x(d[0])).y(d=>P2.y(d[1]));
const area2 = d3.area().x(d=>x(d[0])).y0(d=>P2.y(d[1])).y1(d=>P2.y(d[2]));
const envA = envMinZ1.map((d,i)=>[d[0], d[1], envMaxZ1[i][1]]);
const envB = envMinZ2.map((v,i)=>[640+5*i, v, envMaxZ2[i]]);
[envA, envB].forEach(e=>{
  P2.data.append('path').datum(e).attr('d',area2).attr('fill','#f08080').attr('fill-opacity',0.12)
    .attr('stroke','#f4a0a0').attr('stroke-opacity',0.45).attr('stroke-width',0.7);
});
[[botZ1,botZ2,C.bZ],[botC1,botC2,C.bC],[botA1,botA2,C.bA]].forEach(([s1,s2,col])=>{
  P2.data.append('path').datum(s1.concat(grid(640,5,s2))).attr('d',line2).attr('fill','none').attr('stroke',col).attr('stroke-width',1.6);
});
P2.frame();
{
  const g = svg.append('g');
  g.append('rect').attr('x',2277).attr('y',1103).attr('width',61).attr('height',41).attr('rx',3)
    .attr('fill','#fff8dc').attr('fill-opacity',0.85).attr('stroke','#dcc8a0').attr('stroke-width',1);
  const rows = [1111.7,1123.3,1135];
  [C.bZ,C.bC,C.bA].forEach((c,i)=>{
    g.append('line').attr('x1',2279.5).attr('x2',2300.5).attr('y1',rows[i]).attr('y2',rows[i]).attr('stroke',c).attr('stroke-width',3.2);
    g.append('text').attr('x',2308).attr('y',rows[i]+3.4).attr('font-size',9.5).text(botLegend[i]);
  });
}
</script>
</body></html>
